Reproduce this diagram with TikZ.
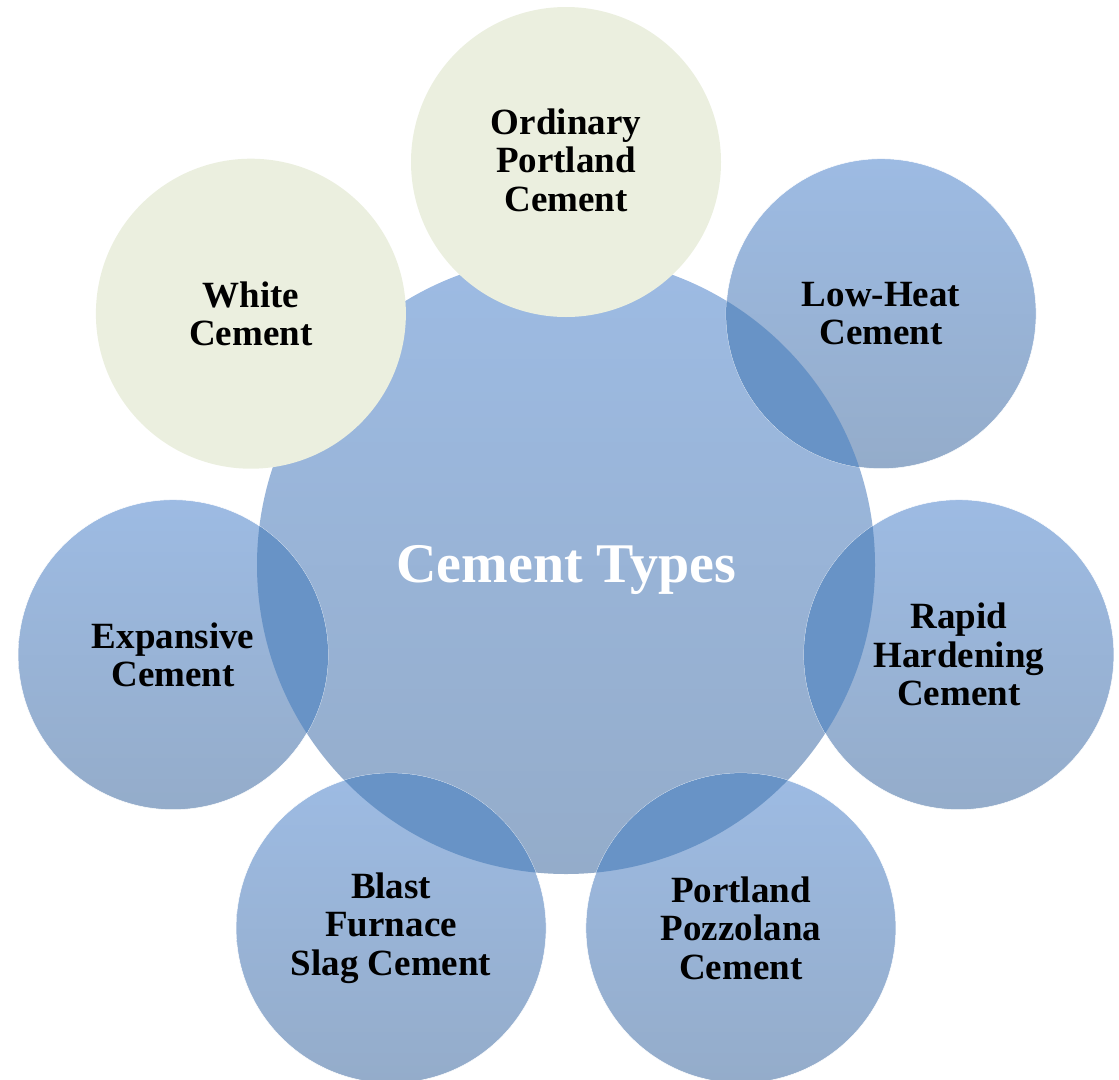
\documentclass[tikz,border=0pt]{standalone}
\usepackage{fontspec}
\setmainfont{Liberation Serif}
\begin{document}
\begin{tikzpicture}[x=1pt,y=-1pt]
\definecolor{btop}{HTML}{9DBBE3}
\definecolor{bbot}{HTML}{94ACCA}
\definecolor{pale}{HTML}{EBEFDF}
\definecolor{ovl}{HTML}{6893C6}
\tikzset{
  bluecirc/.style={circle, minimum size=310pt, inner sep=0pt, top color=btop, bottom color=bbot, draw=white, line width=0.5pt},
  centercirc/.style={circle, minimum size=618pt, inner sep=0pt, top color=btop, bottom color=bbot},
  palecirc/.style={circle, minimum size=310pt, inner sep=0pt, fill=pale},
  lbl/.style={font=\fontsize{37}{38.5}\selectfont\bfseries, align=center, text=black, inner sep=0pt},
  ctrlbl/.style={font=\fontsize{56}{60}\selectfont\bfseries, align=center, text=white, inner sep=0pt},
}
\useasboundingbox (0,0) rectangle (1119,1079);
\node[centercirc] (ctr) at (566,565) {};
\node[bluecirc] (lh) at (881.1,313.7) {};
\node[bluecirc] (rh) at (958.9,654.7) {};
\node[bluecirc] (pp) at (740.9,928.1) {};
\node[bluecirc] (bf) at (391.1,928.1) {};
\node[bluecirc] (ex) at (173.1,654.7) {};
\foreach \n in {lh,rh,pp,bf,ex}{
  \begin{scope}
    \clip (\n.center) circle (155pt);
    \fill[ovl] (ctr.center) circle (309pt);
  \end{scope}
}
\node[palecirc] (op) at (566,162) {};
\node[palecirc] (wc) at (250.9,313.7) {};
\node[ctrlbl] (tct) at ([yshift=-5pt]ctr.center) {Cement Types};
\node[lbl] (top) at ([yshift=2pt]op.center) {Ordinary\\Portland\\Cement};
\node[lbl] (tlh) at (lh.center) {Low-Heat\\Cement};
\node[lbl] (trh) at (rh.center) {Rapid\\Hardening\\Cement};
\node[lbl] (tpp) at (pp.center) {Portland\\Pozzolana\\Cement};
\node[lbl] (tbf) at (bf.center) {Blast\\Furnace\\Slag Cement};
\node[lbl] (tex) at (ex.center) {Expansive\\Cement};
\node[lbl] (twc) at (wc.center) {White\\Cement};
\end{tikzpicture}
\end{document}
